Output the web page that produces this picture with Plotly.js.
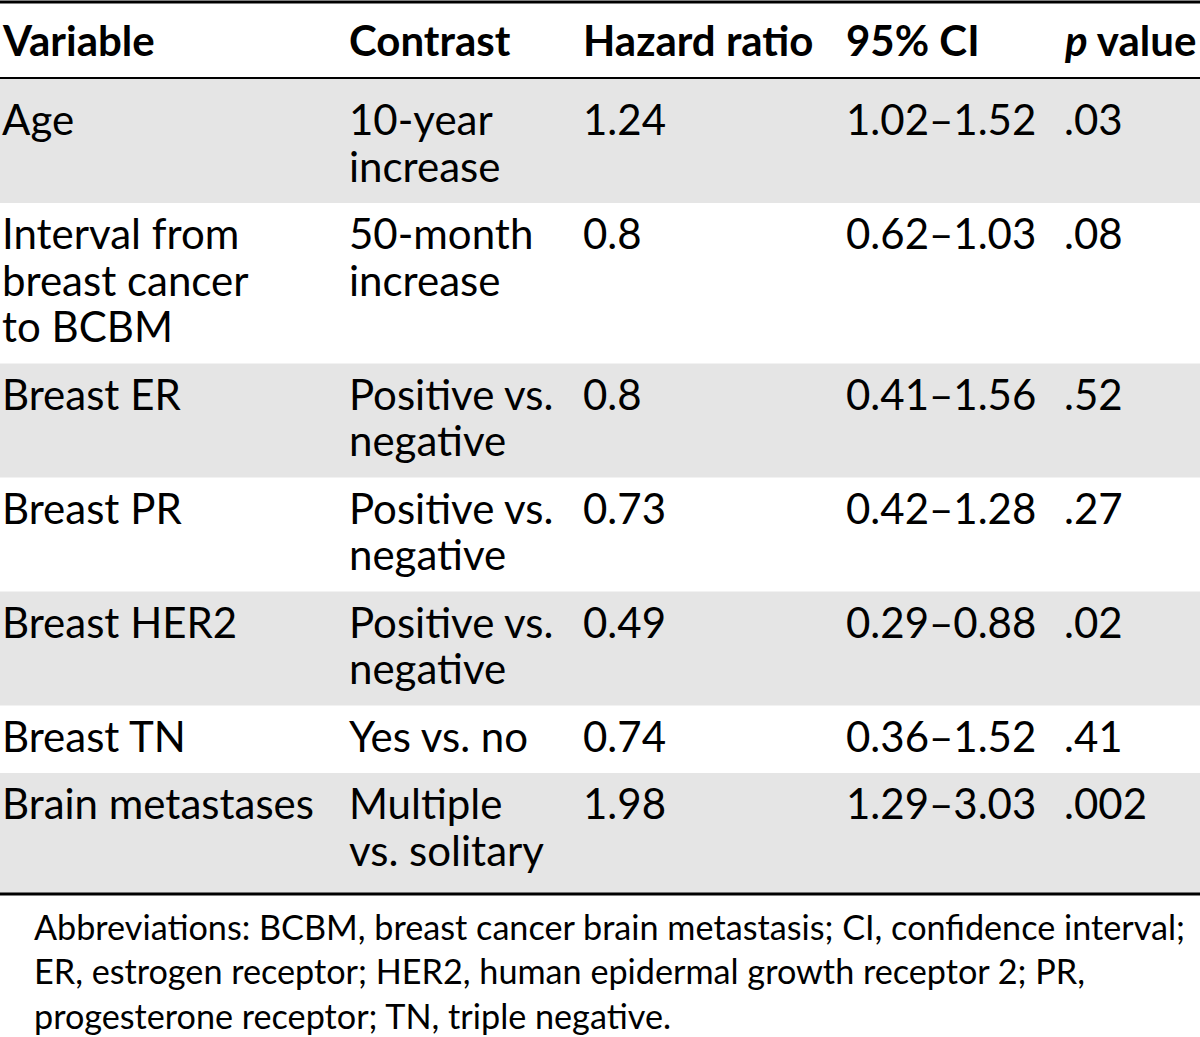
<!DOCTYPE html>
<html>
<head>
<meta charset="utf-8">
<script src="https://cdn.plot.ly/plotly-3.0.1.min.js"></script>
<style>html,body{margin:0;padding:0;background:#fff;}#chart{width:1200px;height:1037px;}</style>
</head>
<body>
<div id="chart"></div>
<script>
// ---- data ----
const headers = ["Variable", "Contrast", "Hazard ratio", "95% CI", "<i>p</i> value"];
const variables = ["Age", "Interval from<br>breast cancer<br>to BCBM", "Breast ER", "Breast PR", "Breast HER2", "Breast TN", "Brain metastases"];
const contrasts = ["10-year<br>increase", "50-month<br>increase", "Positive vs.<br>negative", "Positive vs.<br>negative", "Positive vs.<br>negative", "Yes vs. no", "Multiple<br>vs. solitary"];
const hazardRatios = [1.24, 0.8, 0.8, 0.73, 0.49, 0.74, 1.98];
const ciLow = [1.02, 0.62, 0.41, 0.42, 0.29, 0.36, 1.29];
const ciHigh = [1.52, 1.03, 1.56, 1.28, 0.88, 1.52, 3.03];
const pValues = [0.03, 0.08, 0.52, 0.27, 0.02, 0.41, 0.002];
const footnote = ["Abbreviations: BCBM, breast cancer brain metastasis; CI, confidence interval;",
  "ER, estrogen receptor; HER2, human epidermal growth receptor 2; PR,",
  "progesterone receptor; TN, triple negative."];

// ---- layout helpers ----
const W = 1200, H = 1037;
const FONT = "Lato, 'Open Sans', sans-serif";
const FS = 42;
const FS_NOTE = 34.2;
const LINE = 46.5;
const colX = [1, 348, 582, 845, 1063];
const headerTop = 2, headerBottom = 78;
const gray = "#e5e5e5";

const pFmt = v => String(v).replace(/^0/, "");
const rows = variables.map((v, i) => [
  v, contrasts[i], String(hazardRatios[i]),
  ciLow[i].toFixed(2) + "\u2013" + ciHigh[i].toFixed(2), pFmt(pValues[i])
]);

const annotations = [];
const shapes = [];

function addText(txt, x, y, size) {
  annotations.push({
    text: txt, x: x, y: y, xref: "x", yref: "y",
    xanchor: "left", yanchor: "middle", showarrow: false,
    font: {family: FONT, size: size || FS, color: "#000"}, align: "left",
    borderpad: 0
  });
}

// header
headers.forEach((h, c) => addText("<b>" + h + "</b>", colX[c], 40));

// body rows
let yCursor = headerBottom;
rows.forEach((r, i) => {
  const nLines = Math.max(...r.map(t => t.split("<br>").length));
  const extraTop = i === 0 ? 11 : 0;
  const extraBottom = i === rows.length - 1 ? 7 : 0;
  const h = nLines * LINE + 21 + extraTop + extraBottom;
  if (i % 2 === 0) {
    shapes.push({type: "rect", xref: "x", yref: "y", x0: 0, x1: W, y0: yCursor, y1: yCursor + h,
      fillcolor: gray, line: {width: 0}, layer: "below"});
  }
  r.forEach((cell, c) => {
    cell.split("<br>").forEach((ln, k) => {
      addText(ln, colX[c], yCursor + extraTop + 30 + k * LINE);
    });
  });
  yCursor += h;
});
const tableBottom = yCursor;

// rules
[[headerTop, 3], [headerBottom, 2], [tableBottom, 3]].forEach(([y, w]) => {
  shapes.push({type: "line", xref: "x", yref: "y", x0: 0, x1: W, y0: y, y1: y,
    line: {color: "#000", width: w}});
});

// footnote
footnote.forEach((ln, k) => addText(ln, 33, tableBottom + 32 + k * 44.5, FS_NOTE));

Plotly.newPlot("chart", [], {
  width: W, height: H,
  margin: {l: 0, r: 0, t: 0, b: 0},
  paper_bgcolor: "#fff", plot_bgcolor: "#fff",
  xaxis: {range: [0, W], visible: false, fixedrange: true},
  yaxis: {range: [H, 0], visible: false, fixedrange: true},
  showlegend: false,
  shapes: shapes,
  annotations: annotations
}, {staticPlot: true, displayModeBar: false});
</script>
</body>
</html>
